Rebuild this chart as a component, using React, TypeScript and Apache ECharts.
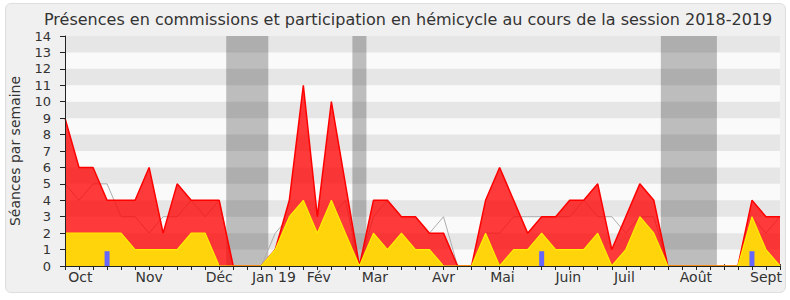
import React, { useEffect, useRef } from 'react';
import * as echarts from 'echarts';

const FONT = '"DejaVu Sans", Verdana, sans-serif';

const TITLE = 'Présences en commissions et participation en hémicycle au cours de la session 2018-2019';
const Y_NAME = 'Séances par semaine';

// one entry per week of the session (week index 0..51)
const presencesCommission = [
  9, 6, 6, 4, 4, 4, 6, 2, 5, 4, 4, 4, 0, 0, 0, 1, 4, 11, 3, 10, 5, 0, 4, 4, 3, 3,
  2, 2, 0, 0, 4, 6, 4, 2, 3, 3, 4, 4, 5, 1, 3, 5, 4, 0, 0, 0, 0, 0, 0, 4, 3, 3,
];
const participationHemicycle = [
  2, 2, 2, 2, 2, 1, 1, 1, 1, 2, 2, 0, 0, 0, 0, 1, 3, 4, 2, 4, 2, 0, 2, 1, 2, 1,
  1, 0, 0, 0, 2, 0, 1, 1, 2, 1, 1, 1, 2, 0, 1, 3, 2, 0, 0, 0, 0, 0, 0, 3, 1, 0,
];
const medianeDeputes = [
  5, 4, 5, 5, 3, 3, 2, 3, 3, 4, 3, 4, 0, 0, 0, 2, 3, 3, 2, 3, 4, 0, 3, 4, 3, 3,
  2, 3, 0, 0, 2, 2, 3, 3, 3, 3, 3, 4, 3, 3, 2, 3, 3, 0, 0, 0, 0, 0, 0, 3, 2, 3,
];
const questionsOralesSemaines = [3, 34, 49];
const questionsOralesValeur = 0.9;

// parliamentary recess periods (week index ranges)
const vacances: [number, number][] = [
  [11.5, 14.5],
  [20.5, 21.5],
  [42.5, 46.5],
];

const monthLabels = ['Oct', 'Nov', 'Déc', 'Jan 19', 'Fév', 'Mar', 'Avr', 'Mai', 'Juin', 'Juil', 'Août', 'Sept'];
const monthPositions = [1.1, 6.0, 11.0, 14.9, 18.1, 22.1, 27.0, 31.2, 35.9, 39.9, 45.0, 50.0];

const Y_MAX = 14;
const LAST_WEEK = presencesCommission.length - 1;

function toPairs(values: number[]) {
  return values.map((v, i) => [i, v]);
}

function buildOption() {
  const stripes: any[] = [];
  for (let y = 1; y < Y_MAX; y += 2) stripes.push([{ yAxis: y }, { yAxis: y + 1 }]);

  return {
    animation: false,
    title: {
      text: TITLE,
      left: 44,
      top: 11,
      padding: 0,
      textStyle: { fontFamily: FONT, fontSize: 16, fontWeight: 'normal', color: '#333' },
    },
    grid: {
      left: 62,
      right: 10,
      top: 36,
      bottom: 34,
      show: true,
      backgroundColor: '#fafafa',
      borderWidth: 0,
    },
    xAxis: [
      {
        type: 'value',
        min: 0,
        max: LAST_WEEK,
        interval: 1,
        z: 7,
        axisLine: { show: true, onZero: false, lineStyle: { color: '#222', width: 1 } },
        axisTick: { show: true, length: 4, lineStyle: { color: '#222' } },
        splitLine: { show: false },
        axisLabel: {
          customValues: monthPositions,
          margin: 4,
          fontFamily: FONT,
          fontSize: 14,
          color: '#333',
          formatter: (v: number) => {
            const k = monthPositions.findIndex((p) => Math.abs(p - v) < 0.01);
            return k >= 0 ? monthLabels[k] : '';
          },
        },
      },
      {
        type: 'value',
        position: 'top',
        min: 0,
        max: LAST_WEEK,
        interval: 1,
        axisLine: { show: false },
        axisTick: { show: true, length: 2, lineStyle: { color: '#444' } },
        axisLabel: { show: false },
        splitLine: { show: false },
      },
    ],
    yAxis: {
      type: 'value',
      min: 0,
      max: Y_MAX,
      interval: 1,
      z: 7,
      name: Y_NAME,
      nameLocation: 'middle',
      nameGap: 43,
      nameTextStyle: { fontFamily: FONT, fontSize: 14, color: '#333' },
      axisLine: { show: true, lineStyle: { color: '#222', width: 1 } },
      axisTick: { show: true, length: 5, lineStyle: { color: '#222' } },
      axisLabel: { margin: 14, fontFamily: FONT, fontSize: 13, color: '#333' },
      splitLine: { show: false },
    },
    series: [
      {
        name: 'vacances',
        type: 'line',
        data: [],
        z: 1,
        silent: true,
        markArea: {
          silent: true,
          z: 1,
          itemStyle: { color: '#bdbdbd' },
          data: vacances.map(([a, b]) => [{ xAxis: a }, { xAxis: b }]),
        },
      },
      {
        name: 'bandes',
        type: 'line',
        data: [],
        z: 2,
        silent: true,
        markArea: {
          silent: true,
          z: 2,
          itemStyle: { color: 'rgba(0,0,0,0.08)' },
          data: stripes,
        },
      },
      {
        name: 'Médiane',
        type: 'line',
        data: toPairs(medianeDeputes),
        z: 3,
        symbol: 'none',
        lineStyle: { color: '#adadad', width: 1 },
      },
      {
        name: 'Présences en commission',
        type: 'line',
        data: toPairs(presencesCommission),
        z: 4,
        symbol: 'none',
        lineStyle: { color: '#ff0000', width: 1.5 },
        areaStyle: { color: 'rgba(255,0,0,0.77)', opacity: 1 },
      },
      {
        name: 'Participation en hémicycle',
        type: 'line',
        data: toPairs(participationHemicycle),
        z: 5,
        symbol: 'none',
        lineStyle: { color: '#ffee00', width: 1.2 },
        areaStyle: { color: '#ffd40a', opacity: 1 },
      },
      {
        name: 'Questions orales',
        type: 'custom',
        data: questionsOralesSemaines.map((w) => [w, questionsOralesValeur]),
        z: 6,
        encode: { x: 0, y: 1 },
        renderItem: (_params: any, api: any) => {
          const top = api.coord([api.value(0), api.value(1)]);
          const base = api.coord([api.value(0), 0]);
          return {
            type: 'rect',
            shape: { x: top[0] - 2.5, y: top[1], width: 5, height: base[1] - top[1] },
            style: { fill: '#6666ff' },
          };
        },
      },
    ],
  };
}

export default function App() {
  const ref = useRef<HTMLDivElement>(null);
  useEffect(() => {
    if (!ref.current) return;
    const chart = echarts.init(ref.current, null, { renderer: 'svg' });
    chart.setOption(buildOption() as any);
    return () => chart.dispose();
  }, []);
  return (
    <div style={{ position: 'absolute', left: 0, top: 0, width: 790, height: 300, background: '#ffffff' }}>
      <div
        style={{
          position: 'absolute',
          left: 5,
          top: 3,
          width: 779,
          height: 288,
          background: '#f0f0f0',
          border: '1px solid #dedede',
          borderRadius: 6,
        }}
      />
      <div ref={ref} style={{ position: 'absolute', left: 0, top: 0, width: 790, height: 300 }} />
    </div>
  );
}
